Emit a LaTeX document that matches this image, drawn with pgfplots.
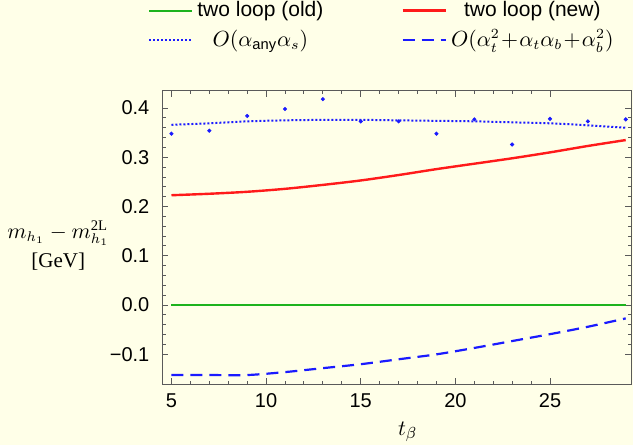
\documentclass[border=0pt]{standalone}
\usepackage{pgfplots}
\pgfplotsset{compat=1.18}
\usepackage{amsmath}
\usepackage{fontspec}
\setmainfont{Liberation Sans}
\newfontfamily\seriffont{Liberation Serif}
\definecolor{bg}{HTML}{FFFFE8}
\definecolor{cgreen}{HTML}{1DB31D}
\definecolor{cred}{HTML}{FF1A1A}
\definecolor{cblue}{HTML}{1A1AFF}
\definecolor{frame}{HTML}{5A5A5A}
\begin{document}
\begin{tikzpicture}
\fill[bg] (0,0) rectangle (316.5pt,222.5pt);
\begin{axis}[
  at={(81.2pt,30.3pt)}, anchor=south west,
  scale only axis, width=234.5pt, height=146.8pt,
  xmin=4.52, xmax=29.3, ymin=-0.161, ymax=0.435,
  xtick={5,10,15,20,25},
  ytick={-0.1,0,0.1,0.2,0.3,0.4},
  yticklabels={−0.1,0.0,0.1,0.2,0.3,0.4},
  minor x tick num=4, minor y tick num=4,
  major tick length=3pt, minor tick length=1.6pt,
  every tick/.style={frame, line width=0.5pt},
  axis line style={frame, line width=0.6pt},
  tick label style={font=\fontsize{10}{12}\selectfont, text=black},
  /pgf/number format/assume math mode=true,
  yticklabel style={xshift=-3pt},
  xticklabel style={yshift=-1pt},
  xlabel={$t_\beta$},
  xlabel style={at={(axis description cs:0.523,-0.162)}, anchor=center, font=\fontsize{11}{13}\selectfont},
  ylabel={\seriffont $m_{h_1}-m_{h_1}^{\text{\seriffont 2L}}$\\[2pt]\seriffont [GeV]},
  ylabel style={at={(axis description cs:-0.222,0.474)}, anchor=center, rotate=-90, align=center, font=\fontsize{10.5}{12.5}\selectfont},
  legend columns=2,
  legend cell align=center,
  legend style={at={(axis description cs:0.470,1.222)}, anchor=center, draw=none, fill=none,
    font=\fontsize{10.5}{12.5}\selectfont, row sep=1pt,
    /tikz/every even column/.append style={column sep=37pt}},
  legend image code/.code={\draw[#1] (0cm,0cm) -- (0.76cm,0cm);},
]
\addplot[cgreen, line width=1pt] coordinates {(5,0) (29,0)};
\addlegendentry{two loop (old)}
\addplot[cred, line width=1.2pt, smooth] coordinates {
(5,0.223) (7,0.226) (9,0.230) (11,0.236) (13,0.244) (15,0.253) (17,0.264) (19,0.276) (21,0.287) (23,0.298) (25,0.310) (27,0.323) (29,0.335)};
\addlegendentry{two loop (new)}
\addplot[cblue, line width=1pt, dash pattern=on 1pt off 1pt, smooth] coordinates {
(5,0.366) (7,0.369) (9,0.373) (11,0.375) (13,0.376) (15,0.376) (17,0.375) (19,0.374) (21,0.373) (23,0.371) (25,0.369) (27,0.365) (29,0.360)};
\addlegendentry{$O(\alpha_{\text{any}}\alpha_s)$}
\addplot[cblue, line width=1.1pt, dash pattern=on 6pt off 3.5pt, smooth] coordinates {
(5,-0.142) (7,-0.142) (9,-0.142) (11,-0.136) (13,-0.128) (15,-0.120) (17,-0.110) (19,-0.100) (21,-0.087) (23,-0.073) (25,-0.059) (27,-0.044) (29,-0.027)};
\addlegendentry{$O(\alpha_t^2\!+\!\alpha_t\alpha_b\!+\!\alpha_b^2)$}
\addplot[only marks, mark=*, mark size=0.8pt, cblue, forget plot] coordinates {
(5,0.348) (7,0.354) (9,0.384) (11,0.398) (13,0.418) (15,0.373) (17,0.373) (19,0.348) (21,0.377) (23,0.326) (25,0.378) (27,0.373) (29,0.377)};
\end{axis}
\pgfresetboundingbox
\useasboundingbox (0,0) rectangle (316.5pt,222.5pt);
\end{tikzpicture}
\end{document}
